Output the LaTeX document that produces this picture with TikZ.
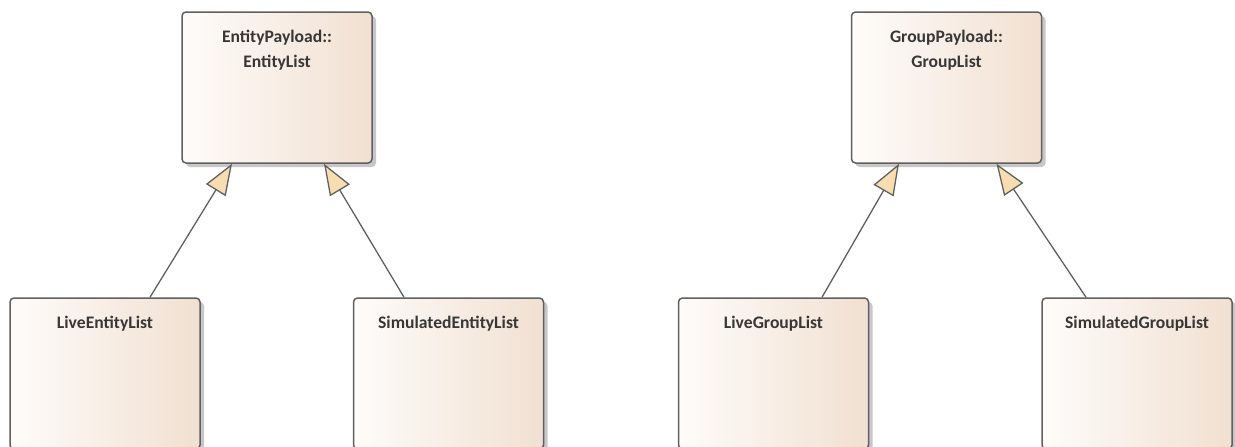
\documentclass[tikz,border=0pt]{standalone}
\usepackage{fontspec}
\setmainfont{Carlito}
\usepackage{xcolor}
\usetikzlibrary{arrows.meta,shadows}

\definecolor{boxleft}{RGB}{254,252,250}
\definecolor{boxright}{RGB}{241,224,209}
\definecolor{boxline}{RGB}{96,96,96}
\definecolor{tipfill}{RGB}{248,221,176}
\definecolor{titlecol}{RGB}{55,55,55}

\tikzset{
  classbox/.style={draw=boxline, line width=1.5pt, rounded corners=4pt,
    minimum width=190pt, minimum height=151pt, inner sep=0pt,
    left color=boxleft, right color=boxright,
    drop shadow={shadow xshift=4pt, shadow yshift=-4pt, fill=black!22, opacity=1}},
  classname/.style={anchor=north, yshift=-19pt, inner sep=0pt, align=center,
    text=titlecol, font=\fontsize{17.6}{25}\selectfont\bfseries},
  inherit/.style={draw=boxline, line width=1.3pt,
    -{Triangle[length=31pt,width=23pt,fill=tipfill]}}
}

\begin{document}
\begin{tikzpicture}[x=1pt, y=-1pt]
\useasboundingbox (0,0) rectangle (1235,447);

% entity lists
\node[classbox, label={[name=entListName, classname]north:{EntityPayload::\\EntityList}}] (entList) at (277,87.5) {};
\node[classbox, label={[name=liveEntName, classname]north:LiveEntityList}] (liveEnt) at (105,373.5) {};
\node[classbox, label={[name=simEntName, classname]north:SimulatedEntityList}] (simEnt) at (448.5,373.5) {};

% group lists
\node[classbox, label={[name=grpListName, classname]north:{GroupPayload::\\GroupList}}] (grpList) at (946.5,87.5) {};
\node[classbox, label={[name=liveGrpName, classname]north:LiveGroupList}] (liveGrp) at (773.5,373.5) {};
\node[classbox, label={[name=simGrpName, classname]north:SimulatedGroupList}] (simGrp) at (1137,373.5) {};

\draw[inherit] ([xshift=45pt]liveEnt.north) -- ([xshift=-45pt]entList.south);
\draw[inherit] ([xshift=-44.5pt]simEnt.north) -- ([xshift=47pt]entList.south);
\draw[inherit] ([xshift=48.5pt]liveGrp.north) -- ([xshift=-47.5pt]grpList.south);
\draw[inherit] ([xshift=-51pt]simGrp.north) -- ([xshift=50pt]grpList.south);
\end{tikzpicture}
\end{document}
